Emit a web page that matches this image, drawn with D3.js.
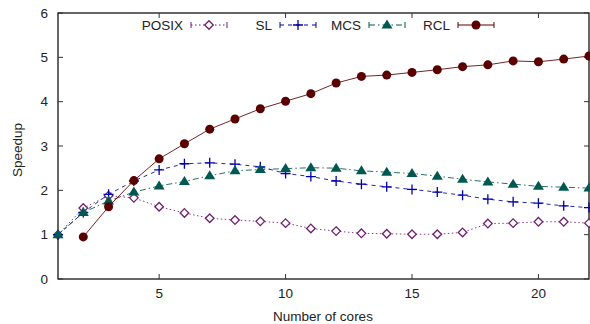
<!DOCTYPE html>
<html><head><meta charset="utf-8">
<script src="https://cdn.jsdelivr.net/npm/d3@7/dist/d3.min.js"></script>
<style>body{margin:0;background:#fff}svg{display:block}text{font-family:"Liberation Sans",Arial,sans-serif;font-size:13.5px;fill:#222}</style>
</head><body><svg id="c" width="590" height="324"></svg>
<script>
const cores = d3.range(1, 23);
const posix = [1.0,1.6,1.88,1.83,1.63,1.49,1.37,1.33,1.3,1.26,1.14,1.08,1.03,1.02,1.01,1.01,1.05,1.25,1.26,1.29,1.29,1.26];
const sl    = [1.0,1.5,1.91,2.21,2.46,2.6,2.62,2.59,2.53,2.38,2.31,2.21,2.14,2.08,2.02,1.96,1.89,1.8,1.74,1.71,1.65,1.61];
const mcs   = [1.0,1.5,1.76,1.96,2.1,2.2,2.33,2.44,2.47,2.49,2.51,2.5,2.44,2.41,2.38,2.32,2.25,2.19,2.14,2.09,2.07,2.05];
const rclX  = d3.range(2, 23);
const rcl   = [0.95,1.63,2.22,2.71,3.05,3.38,3.61,3.84,4.01,4.18,4.42,4.57,4.6,4.66,4.72,4.79,4.83,4.92,4.9,4.96,5.03];
const xTicks = [5,10,15,20];
const yTicks = [0,1,2,3,4,5,6];

const svg = d3.select("#c");
const L=58, R=589, T=13, B=279;
const x = d3.scaleLinear().domain([1,22]).range([L,R]);
const y = d3.scaleLinear().domain([0,6]).range([B,T]);

const series = [
  {name:"POSIX", xs:cores, ys:posix, color:"#6e1f6e", dash:"1.5,2.5", marker:"diamond", lx:183},
  {name:"SL", xs:cores, ys:sl, color:"#0000a8", dash:"4,4", marker:"plus", lx:272},
  {name:"MCS", xs:cores, ys:mcs, color:"#005850", dash:"6,3,1.5,3", marker:"tri", lx:361},
  {name:"RCL", xs:rclX, ys:rcl, color:"#5a0000", dash:null, marker:"circle", lx:450}
];

function drawMarker(g, type, cx, cy, color){
  if(type==="diamond"){
    g.append("path").attr("d",`M${cx},${cy-4.3}L${cx+4.3},${cy}L${cx},${cy+4.3}L${cx-4.3},${cy}Z`)
     .attr("fill","#fff").attr("stroke",color).attr("stroke-width",1.3);
  } else if(type==="plus"){
    g.append("path").attr("d",`M${cx-5},${cy}H${cx+5}M${cx},${cy-5}V${cy+5}`)
     .attr("stroke",color).attr("stroke-width",1.3).attr("fill","none");
  } else if(type==="tri"){
    g.append("path").attr("d",`M${cx},${cy-5.5}L${cx+5.5},${cy+3.5}L${cx-5.5},${cy+3.5}Z`).attr("fill",color);
  } else {
    g.append("circle").attr("cx",cx).attr("cy",cy).attr("r",4.5).attr("fill",color);
  }
}

// frame
svg.append("rect").attr("x",L).attr("y",T).attr("width",R-L).attr("height",B-T)
  .attr("fill","none").attr("stroke","#000").attr("stroke-width",1.2);

// ticks
const tg = svg.append("g").attr("stroke","#333").attr("stroke-width",1);
xTicks.forEach(t=>{
  tg.append("line").attr("x1",x(t)).attr("x2",x(t)).attr("y1",B).attr("y2",B-5);
  tg.append("line").attr("x1",x(t)).attr("x2",x(t)).attr("y1",T).attr("y2",T+5);
  svg.append("text").attr("x",x(t)).attr("y",298).attr("text-anchor","middle").text(t);
});
yTicks.forEach(t=>{
  tg.append("line").attr("x1",L).attr("x2",L+5).attr("y1",y(t)).attr("y2",y(t));
  tg.append("line").attr("x1",R).attr("x2",R-5).attr("y1",y(t)).attr("y2",y(t));
  svg.append("text").attr("x",48).attr("y",y(t)+4.5).attr("text-anchor","end").text(t);
});

svg.append("text").attr("x",323).attr("y",321).attr("text-anchor","middle").text("Number of cores");
svg.append("text").attr("transform","translate(22,150) rotate(-90)").attr("text-anchor","middle").text("Speedup");

// series
series.forEach(s=>{
  const g = svg.append("g");
  const line = d3.line().x((d,i)=>x(s.xs[i])).y(d=>y(d));
  g.append("path").datum(s.ys).attr("d",line).attr("fill","none")
    .attr("stroke",s.color).attr("stroke-width",1).attr("stroke-dasharray",s.dash).attr("opacity",0.85);
  s.ys.forEach((v,i)=>drawMarker(g,s.marker,x(s.xs[i]),y(v),s.color));
  // legend
  const ly=25, x0=s.lx+8, x1=s.lx+44;
  svg.append("text").attr("x",s.lx).attr("y",ly+4.5).attr("text-anchor","end").text(s.name);
  g.append("line").attr("x1",x0).attr("x2",x1).attr("y1",ly).attr("y2",ly)
    .attr("stroke",s.color).attr("stroke-width",1).attr("stroke-dasharray",s.dash);
  g.append("path").attr("d",`M${x0},${ly-3}V${ly+3}M${x1},${ly-3}V${ly+3}`).attr("stroke",s.color).attr("stroke-width",1);
  drawMarker(g,s.marker,(x0+x1)/2,ly,s.color);
});
</script></body></html>
